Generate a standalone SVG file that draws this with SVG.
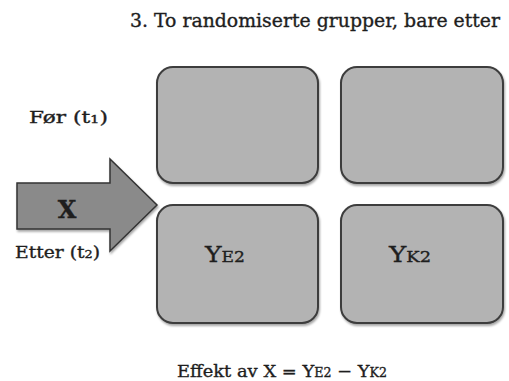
<svg xmlns="http://www.w3.org/2000/svg" width="509" height="381" viewBox="0 0 509 381">
<style>
.box{fill:#b3b3b3;stroke:#3c3c3c;stroke-width:2;filter:url(#sh)}
.t{font-family:"DejaVu Serif","Liberation Serif",serif;fill:#1e1e1e;stroke:#1e1e1e;stroke-width:0.35}
</style>
<defs>
<filter id="sh" x="-10%" y="-10%" width="130%" height="130%">
<feDropShadow dx="1" dy="2" stdDeviation="1.2" flood-color="#000" flood-opacity="0.35"/>
</filter>
</defs>
<rect width="509" height="381" fill="#ffffff"/>
<text class="t" x="130" y="27" font-size="18" textLength="370" lengthAdjust="spacingAndGlyphs">3. To randomiserte grupper, bare etter</text>
<g id="box-e1"><rect class="box" x="157" y="67" width="161" height="116" rx="16"/></g>
<g id="box-k1"><rect class="box" x="341" y="67" width="162" height="116" rx="16"/></g>
<g id="box-e2"><rect class="box" x="157" y="205" width="161" height="118" rx="16"/>
<text class="t" x="205" y="262" font-size="22" textLength="40" lengthAdjust="spacingAndGlyphs">Y<tspan font-size="15">E2</tspan></text></g>
<g id="box-k2"><rect class="box" x="341" y="205" width="162" height="118" rx="16"/>
<text class="t" x="389" y="262" font-size="22" textLength="42" lengthAdjust="spacingAndGlyphs">Y<tspan font-size="15">K2</tspan></text></g>
<g id="connectors">
<g id="arrow-x">
<path d="M17,183 L110,183 L110,159 L157,205 L110,251 L110,229 L17,229 Z" fill="#8a8a8a" stroke="#333" stroke-width="1.5" filter="url(#sh)"/>
<text class="t" x="67" y="218" font-size="24" font-weight="bold" text-anchor="middle">X</text>
</g>
</g>
<text class="t" x="29" y="123" font-size="16" textLength="79" lengthAdjust="spacingAndGlyphs">Før (t<tspan font-size="11">1</tspan>)</text>
<text class="t" x="15" y="258" font-size="16" textLength="85" lengthAdjust="spacingAndGlyphs">Etter (t<tspan font-size="11">2</tspan>)</text>
<text class="t" x="177" y="377" font-size="17" textLength="210" lengthAdjust="spacingAndGlyphs">Effekt av X = Y<tspan font-size="12">E2</tspan> − Y<tspan font-size="12">K2</tspan></text>
</svg>
